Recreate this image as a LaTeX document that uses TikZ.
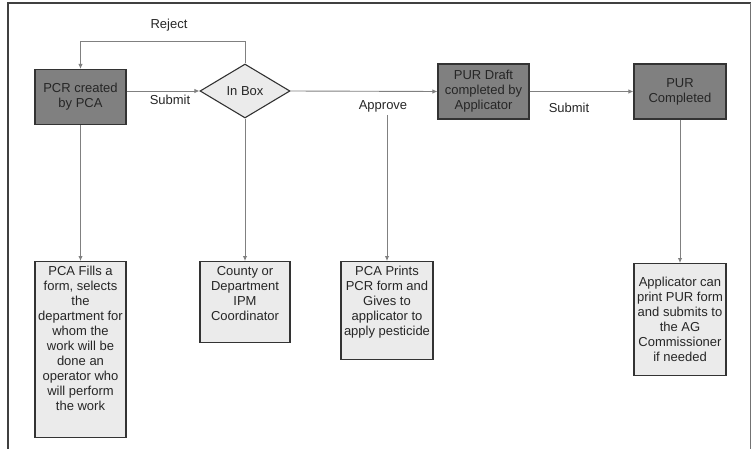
\documentclass[tikz,border=0pt]{standalone}
\usepackage{fontspec}
\setmainfont{Liberation Sans}
\usetikzlibrary{shapes.geometric,arrows.meta}

\begin{document}
\begin{tikzpicture}[x=1pt,y=-1pt,
  every node/.style={font=\fontsize{13}{15}\selectfont,text=black!85},
  stage/.style={draw=black!80,fill=black!50,line width=1.1pt,minimum width=91pt,minimum height=55pt,align=center,inner sep=1pt},
  note/.style={draw=black!80,fill=black!8,line width=1.1pt,anchor=north,inner xsep=2pt,inner ysep=5pt},
  link/.style={draw=black!50,line width=0.9pt,-{Latex[length=5pt,width=4.5pt]},color=black!50}]
\useasboundingbox (0,0) rectangle (752,449);
\draw[line width=2pt,black!75] (7.5,449) -- (7.5,3.5) -- (751,3.5);
\draw[line width=1.2pt,black!55] (750.5,3.5) -- (750.5,449);

\node [stage] (pcr) at (80.5,97) {PCR created\\ by PCA};
\node [diamond,draw=black!80,fill=black!8,line width=1.1pt,minimum width=90pt,minimum height=54pt,inner sep=0pt] (inbox) at (245,91) {In Box};
\node [stage] (draft) at (483.5,91.5) {PUR Draft\\ completed by\\ Applicator};
\node [stage,minimum width=92pt] (done) at (680,91.5) {PUR\\ Completed};

\node [note] (fills) at (80.5,261) {\parbox[t][166pt][t]{87pt}{\centering PCA Fills a\\ form, selects\\ the\\ department for\\ whom the\\ work will be\\ done an\\ operator who\\ will perform\\ the work}};
\node [note] (coord) at (245,261) {\parbox[t][71pt][t]{86pt}{\centering County or\\ Department\\ IPM\\ Coordinator}};
\node [note] (prints) at (387,261) {\parbox[t][88pt][t]{88pt}{\centering PCA Prints\\ PCR form and\\ Gives to\\ applicator to\\ apply pesticide}};
\node [note] (applic) at (680,263) {\parbox[t][102pt][c]{88pt}{\centering Applicator can\\ print PUR form\\ and submits to\\ the AG\\ Commissioner\\ if needed}};

\node (reject) at (169,25) {Reject};
\node (submita) at (170,100) {Submit};
\node (approve) at (383,106) {Approve};
\node (submitb) at (569,108) {Submit};
\coordinate (tap) at (387,115);

\draw [link] (inbox.north) -- ++(0,-22) -| (pcr.north);
\draw [link] (pcr.east |- inbox.west) -- (inbox.west);
\draw [link] (inbox.east) -- (draft.west);
\draw [link] (draft.east) -- (done.west);
\draw [link] (pcr.south) -- (fills.north);
\draw [link] (inbox.south) -- (coord.north);
\draw [link] (tap) -- (prints.north);
\draw [link] (done.south) -- (applic.north);
\end{tikzpicture}
\end{document}
